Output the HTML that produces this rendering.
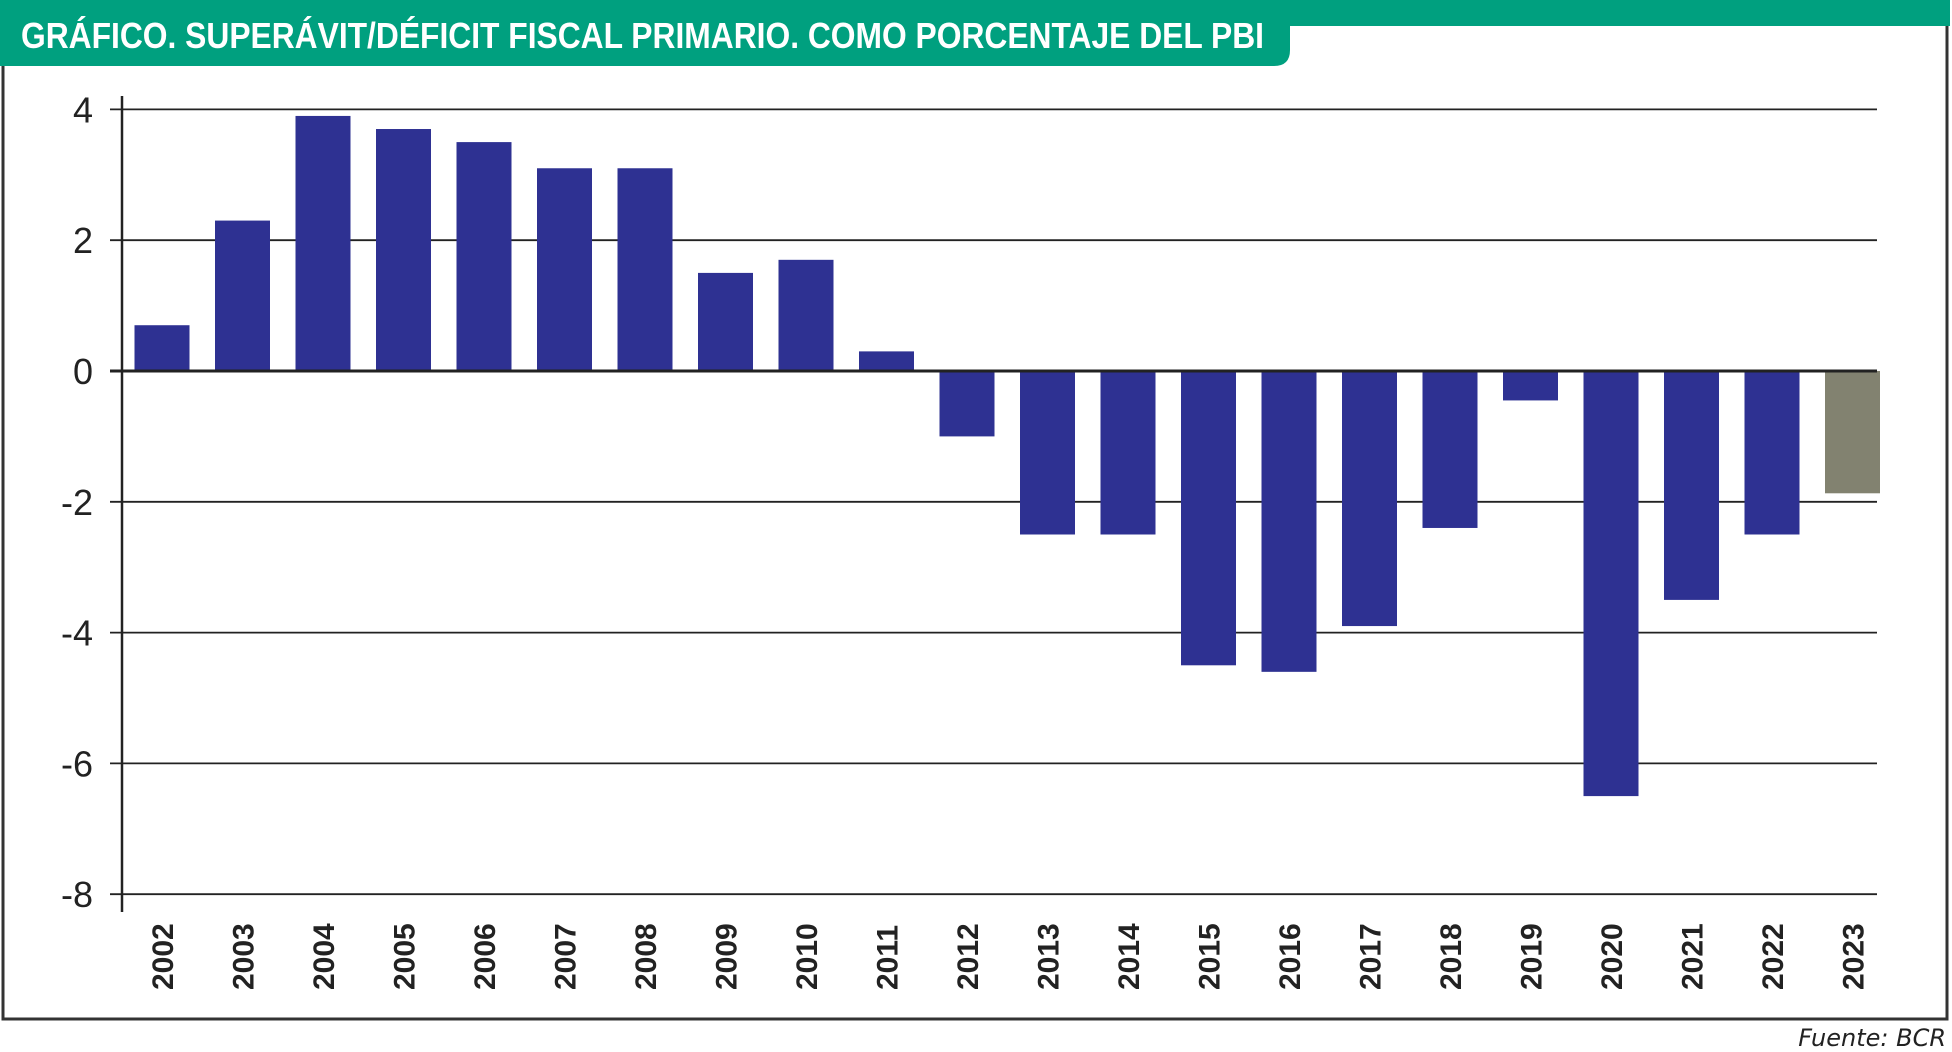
<!DOCTYPE html>
<html><head><meta charset="utf-8"><style>
html,body{margin:0;padding:0;background:#fff;}
svg{display:block;}
</style></head><body>
<svg id="chart" width="1952" height="1052" viewBox="0 0 1952 1052" xmlns="http://www.w3.org/2000/svg">
  <rect x="3" y="3" width="1944" height="1016" fill="#fff" stroke="#333" stroke-width="3"/>
  <rect x="0" y="0" width="1950" height="26" fill="#00a07f"/>
  <path d="M0 0 H1290 V50 Q1290 66 1274 66 H0 Z" fill="#00a07f"/>
  <text x="21" y="48" fill="#fff" font-family="'Liberation Sans Narrow','Liberation Sans',sans-serif" font-weight="bold" font-size="36" textLength="1243" lengthAdjust="spacingAndGlyphs">GRÁFICO. SUPERÁVIT/DÉFICIT FISCAL PRIMARIO. COMO PORCENTAJE DEL PBI</text>
  <g id="grid"></g>
  <g id="bars"></g>
  <g id="axes"></g>
  <text x="1946" y="1046" text-anchor="end" font-family="'DejaVu Sans','Liberation Sans',sans-serif" font-style="italic" font-size="24" fill="#222">Fuente: BCR</text>
</svg>
<script>
const years = ["2002","2003","2004","2005","2006","2007","2008","2009","2010","2011","2012","2013","2014","2015","2016","2017","2018","2019","2020","2021","2022","2023"];
const values = [0.7,2.3,3.9,3.7,3.5,3.1,3.1,1.5,1.7,0.3,-1.0,-2.5,-2.5,-4.5,-4.6,-3.9,-2.4,-0.45,-6.5,-3.5,-2.5,-1.87];
const yTicks = [4,2,0,-2,-4,-6,-8];
const estimateFlags = [0,0,0,0,0,0,0,0,0,0,0,0,0,0,0,0,0,0,0,0,0,1];

const NS="http://www.w3.org/2000/svg";
const y0=371, perUnit=65.4;
const yScale=v=>y0-v*perUnit;
const bandStart=134.5, pitch=80.5, barW=55;
const xScale=i=>bandStart+i*pitch;
const axisX=122, gridRight=1877;
function mk(tag,attrs,parent){const e=document.createElementNS(NS,tag);for(const k in attrs)e.setAttribute(k,attrs[k]);parent.appendChild(e);return e;}
const grid=document.getElementById('grid'),bars=document.getElementById('bars'),axes=document.getElementById('axes');
yTicks.forEach(t=>{
  const y=yScale(t);
  const l=mk('line',{x1:110,x2:gridRight,y1:y,y2:y,stroke:'#222','stroke-width':t===0?3:1.8},t===0?axes:grid);
  
  
  const tx=mk('text',{x:93,y:y+13,'text-anchor':'end','font-family':"'Liberation Sans Narrow','Liberation Sans',sans-serif",'font-size':36,fill:'#222'},axes);
  tx.textContent=String(t);
  
  
});
const ax=mk('line',{x1:axisX,x2:axisX,y1:96,y2:912,stroke:'#222','stroke-width':2.5},axes);


values.forEach((v,i)=>{
  const x=xScale(i);
  const top=Math.min(yScale(v),y0), h=Math.abs(yScale(v)-y0);
  const r=mk('rect',{x:x,y:top,width:barW,height:h,fill:estimateFlags[i]?'#828270':'#2e3192'},bars);
  
  
  const cx=x+barW/2;
  const t=mk('text',{x:0,y:0,transform:`translate(${cx+11},990) rotate(-90)`,'font-family':"'Liberation Sans',sans-serif",'font-weight':'bold','font-size':30,fill:'#222'},axes);
  t.textContent=years[i];
  
  
});
</script>
</body></html>
